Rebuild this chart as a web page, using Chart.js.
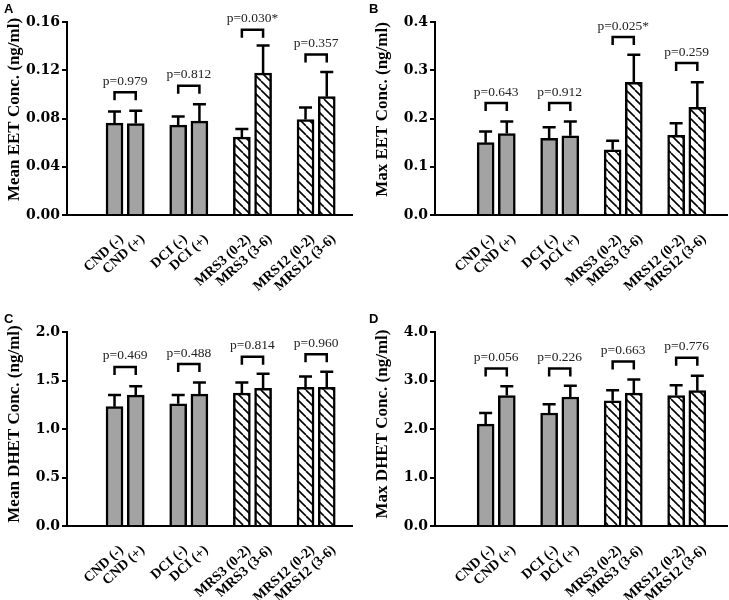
<!DOCTYPE html>
<html>
<head>
<meta charset="utf-8">
<script src="https://cdn.jsdelivr.net/npm/chart.js@4.4.1/dist/chart.umd.min.js"></script>
<style>
  body { margin: 0; background: #fff; }
  .panel { position: absolute; width: 364px; height: 300px; }
</style>
</head>
<body>
<div class="panel" style="left:0;top:0"><canvas id="chartA" width="364" height="300"></canvas></div>
<div class="panel" style="left:365px;top:0"><canvas id="chartB" width="364" height="300"></canvas></div>
<div class="panel" style="left:0;top:300px"><canvas id="chartC" width="364" height="300"></canvas></div>
<div class="panel" style="left:365px;top:300px"><canvas id="chartD" width="364" height="300"></canvas></div>
<script>
const categories = ["CND (-)", "CND (+)", "DCI (-)", "DCI (+)", "MRS3 (0-2)", "MRS3 (3-6)", "MRS12 (0-2)", "MRS12 (3-6)"];
// pairs sit side by side, one empty slot between groups
const slots = categories.map((c, i) => i + Math.floor(i / 2));

const meanEET = [0.0762, 0.0758, 0.0745, 0.0778, 0.0646, 0.1176, 0.0791, 0.0981];
const semMeanEET = [0.0095, 0.0106, 0.0071, 0.0141, 0.0066, 0.0230, 0.0100, 0.0205];
const maxEET = [0.150, 0.169, 0.159, 0.164, 0.135, 0.275, 0.165, 0.223];
const semMaxEET = [0.023, 0.025, 0.023, 0.030, 0.019, 0.057, 0.025, 0.052];
const meanDHET = [1.23, 1.35, 1.26, 1.36, 1.37, 1.42, 1.43, 1.43];
const semMeanDHET = [0.12, 0.09, 0.09, 0.12, 0.11, 0.15, 0.11, 0.16];
const maxDHET = [2.10, 2.69, 2.33, 2.66, 2.58, 2.74, 2.69, 2.79];
const semMaxDHET = [0.23, 0.19, 0.18, 0.23, 0.22, 0.28, 0.21, 0.31];

const pMeanEET = ["p=0.979", "p=0.812", "p=0.030*", "p=0.357"];
const pMaxEET = ["p=0.643", "p=0.912", "p=0.025*", "p=0.259"];
const pMeanDHET = ["p=0.469", "p=0.488", "p=0.814", "p=0.960"];
const pMaxDHET = ["p=0.056", "p=0.226", "p=0.663", "p=0.776"];

// height of each comparison bracket, in axis units
const brkMeanEET = [0.1018, 0.1071, 0.1536, 0.1330];
const brkMaxEET = [0.232, 0.232, 0.369, 0.315];
const brkMeanDHET = [1.64, 1.67, 1.745, 1.77];
const brkMaxDHET = [3.25, 3.25, 3.39, 3.47];

const ticksMeanEET = [0, 0.04, 0.08, 0.12, 0.16];
const labelsMeanEET = ["0.00", "0.04", "0.08", "0.12", "0.16"];
const ticksMaxEET = [0, 0.1, 0.2, 0.3, 0.4];
const labelsMaxEET = ["0.0", "0.1", "0.2", "0.3", "0.4"];
const ticksMeanDHET = [0, 0.5, 1, 1.5, 2];
const labelsMeanDHET = ["0.0", "0.5", "1.0", "1.5", "2.0"];
const ticksMaxDHET = [0, 1, 2, 3, 4];
const labelsMaxDHET = ["0.0", "1.0", "2.0", "3.0", "4.0"];

// diagonal hatch for the MRS bars
function hatch() {
  const c = document.createElement("canvas");
  c.width = 9; c.height = 9;
  const g = c.getContext("2d");
  g.fillStyle = "#fff";
  g.fillRect(0, 0, 9, 9);
  g.strokeStyle = "#000";
  g.lineWidth = 1.6;
  for (const o of [-9, 0, 9]) {
    g.beginPath();
    g.moveTo(o, 0);
    g.lineTo(o + 9, 9);
    g.stroke();
  }
  return g.createPattern(c, "repeat");
}
const stripes = hatch();
const fills = categories.map((c, i) => i < 4 ? "#a3a3a3" : stripes);

const decor = {
  id: "decor",
  afterDatasetsDraw(chart, args, opts) {
    const ctx = chart.ctx;
    const meta = chart.getDatasetMeta(0);
    const y = chart.scales.y;
    const pts = chart.data.datasets[0].data;
    const area = chart.chartArea;
    ctx.save();
    ctx.strokeStyle = "#000";
    ctx.lineWidth = 2.5;
    meta.data.forEach((bar, i) => {
      const top = y.getPixelForValue(pts[i].y + opts.sem[i]);
      ctx.beginPath();
      ctx.moveTo(bar.x, bar.y);
      ctx.lineTo(bar.x, top);
      ctx.moveTo(bar.x - 6.5, top);
      ctx.lineTo(bar.x + 6.5, top);
      ctx.stroke();
    });
    ctx.font = '13.5px "Liberation Serif"';
    ctx.textAlign = "center";
    ctx.textBaseline = "middle";
    opts.levels.forEach((lv, k) => {
      const x1 = meta.data[2 * k].x, x2 = meta.data[2 * k + 1].x;
      const yb = y.getPixelForValue(lv);
      ctx.beginPath();
      ctx.moveTo(x1, yb + 8);
      ctx.lineTo(x1, yb);
      ctx.lineTo(x2, yb);
      ctx.lineTo(x2, yb + 8);
      ctx.stroke();
      ctx.fillStyle = "#222";
      ctx.fillText(opts.pvals[k], (x1 + x2) / 2, yb - 11);
    });
    ctx.fillStyle = "#000";
    ctx.font = 'bold 13px "Liberation Sans"';
    ctx.textAlign = "left";
    ctx.textBaseline = "top";
    ctx.fillText(opts.letter, 4, area.top - 19);
    ctx.translate(area.left - 52, (area.top + area.bottom) / 2 + opts.shift);
    ctx.rotate(-Math.PI / 2);
    ctx.font = 'bold 17px "Liberation Serif"';
    ctx.textAlign = "center";
    ctx.textBaseline = "middle";
    ctx.fillText(opts.title, 0, 0);
    ctx.restore();
  }
};

function makePanel(id, p) {
  new Chart(document.getElementById(id), {
    type: "bar",
    data: {
      datasets: [{
        data: p.values.map((v, i) => ({ x: slots[i], y: v })),
        backgroundColor: fills,
        borderColor: "#000",
        borderWidth: 2.5,
        barThickness: 17
      }]
    },
    options: {
      responsive: false,
      animation: false,
      layout: { padding: { top: p.top, right: p.right, left: 0, bottom: 0 } },
      plugins: {
        legend: { display: false },
        tooltip: { enabled: false },
        decor: { sem: p.sem, levels: p.levels, pvals: p.pvals, letter: p.letter, title: p.title, shift: p.shift }
      },
      scales: {
        x: {
          type: "linear",
          min: p.xMin,
          max: p.xMax,
          z: 1,
          grid: { display: false },
          border: { color: "#000", width: 2 },
          afterBuildTicks: s => { s.ticks = slots.map(v => ({ value: v })); },
          afterFit: s => { s.height = p.xh; },
          ticks: {
            autoSkip: false,
            minRotation: 42,
            maxRotation: 42,
            padding: 8,
            labelOffset: 7,
            color: "#000",
            font: { family: "Liberation Serif", weight: "bold", size: 14 },
            callback: (v, i) => categories[i]
          }
        },
        y: {
          min: 0,
          max: p.yTicks[p.yTicks.length - 1],
          z: 1,
          grid: { drawOnChartArea: false, color: "#000", lineWidth: 2, tickLength: 5 },
          border: { color: "#000", width: 2 },
          afterBuildTicks: s => { s.ticks = p.yTicks.map(v => ({ value: v })); },
          afterFit: s => { s.width = p.left; },
          ticks: {
            padding: 2,
            color: "#000",
            font: { family: "DejaVu Serif", weight: "bold", size: 14 },
            callback: (v, i) => p.yLabels[i]
          }
        }
      }
    },
    plugins: [decor]
  });
}

makePanel("chartA", {
  values: meanEET, sem: semMeanEET, levels: brkMeanEET, pvals: pMeanEET,
  yTicks: ticksMeanEET, yLabels: labelsMeanEET, letter: "A", title: "Mean EET Conc. (ng/ml)",
  top: 22, right: 12, left: 67, xh: 85, xMin: -1.40, xMax: 10.35, shift: -9
});
makePanel("chartB", {
  values: maxEET, sem: semMaxEET, levels: brkMaxEET, pvals: pMaxEET,
  yTicks: ticksMaxEET, yLabels: labelsMaxEET, letter: "B", title: "Max EET Conc. (ng/ml)",
  top: 22, right: 2, left: 70, xh: 85, xMin: -1.53, xMax: 10.54, shift: -9
});
makePanel("chartC", {
  values: meanDHET, sem: semMeanDHET, levels: brkMeanDHET, pvals: pMeanDHET,
  yTicks: ticksMeanDHET, yLabels: labelsMeanDHET, letter: "C", title: "Mean DHET Conc. (ng/ml)",
  top: 32, right: 12, left: 67, xh: 74, xMin: -1.40, xMax: 10.35, shift: -5
});
makePanel("chartD", {
  values: maxDHET, sem: semMaxDHET, levels: brkMaxDHET, pvals: pMaxDHET,
  yTicks: ticksMaxDHET, yLabels: labelsMaxDHET, letter: "D", title: "Max DHET Conc. (ng/ml)",
  top: 32, right: 2, left: 70, xh: 74, xMin: -1.53, xMax: 10.54, shift: -5
});
</script>
</body>
</html>
